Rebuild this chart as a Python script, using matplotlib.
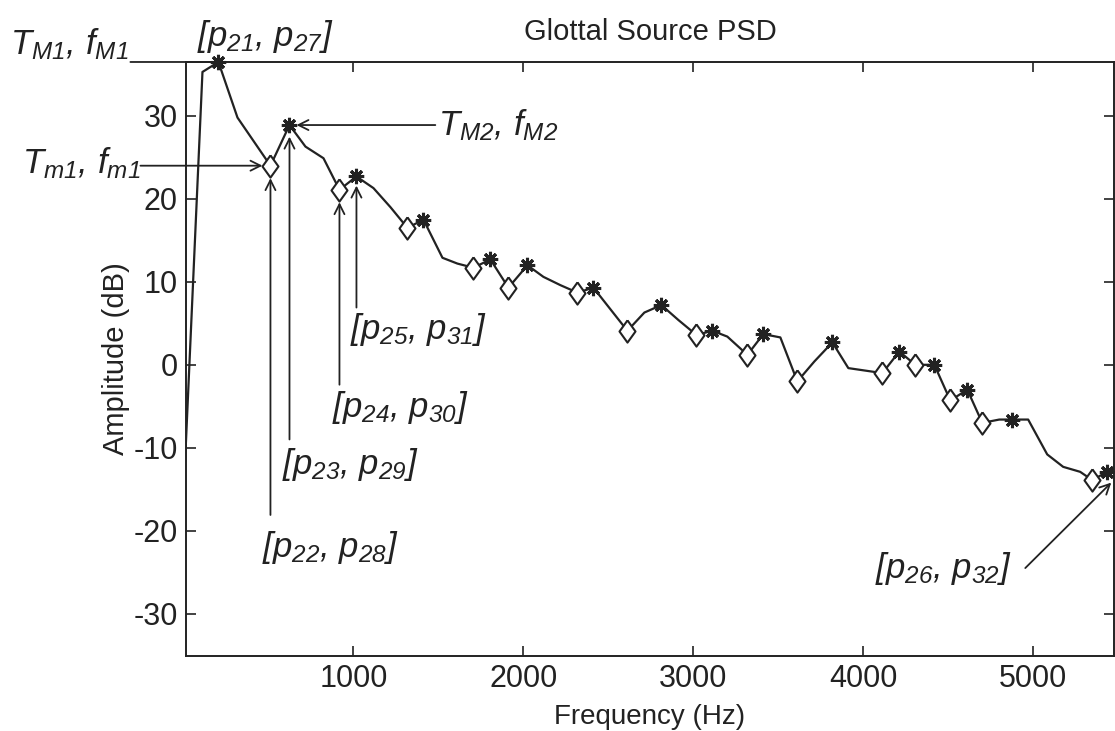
import matplotlib.pyplot as plt

plt.rcParams['font.family'] = ['Liberation Sans', 'DejaVu Sans']
plt.rcParams['axes.unicode_minus'] = False
# annotation labels are italic throughout (letters, digits and brackets)
plt.rcParams['mathtext.fontset'] = 'custom'
plt.rcParams['mathtext.it'] = 'Liberation Sans:italic'
plt.rcParams['mathtext.rm'] = 'Liberation Sans:italic'

# glottal source PSD curve (Hz, dB)
freq = [10, 112, 206, 318, 512, 624, 718, 824, 918, 1018, 1118, 1218, 1318, 1412,
        1524, 1612, 1706, 1806, 1912, 2024, 2118, 2218, 2318, 2412, 2512, 2612,
        2712, 2812, 2912, 3018, 3112, 3200, 3318, 3412, 3512, 3612, 3712, 3818,
        3912, 4012, 4112, 4212, 4306, 4418, 4512, 4612, 4700, 4800, 4876, 4970,
        5082, 5176, 5276, 5347, 5435, 5512]
amp = [-11.5, 35.3, 36.5, 29.8, 24.0, 28.9, 26.3, 24.9, 21.1, 22.7, 21.3, 19.0, 16.5, 17.5,
       12.9, 12.2, 11.7, 12.7, 9.3, 12.0, 10.6, 9.6, 8.7, 9.3, 6.7, 4.1,
       6.3, 7.2, 5.4, 3.6, 4.1, 3.4, 1.2, 3.7, 3.3, -2.0, 0.4, 2.7,
       -0.4, -0.7, -1.0, 1.6, 0.0, 0.0, -4.3, -3.0, -7.0, -6.6, -6.6, -6.6,
       -10.8, -12.3, -12.9, -13.9, -12.9, -12.5]

# peaks (asterisks) and valleys (diamonds)
peak_f = [206, 624, 1018, 1412, 1806, 2024, 2412, 2812, 3112, 3412, 3818, 4212, 4418, 4612, 4876, 5435]
peak_a = [36.5, 28.9, 22.7, 17.5, 12.7, 12.0, 9.3, 7.2, 4.1, 3.7, 2.7, 1.6, 0.0, -3.0, -6.6, -12.9]
valley_f = [512, 918, 1318, 1706, 1912, 2318, 2612, 3018, 3318, 3612, 4112, 4306, 4512, 4700, 5347]
valley_a = [24.0, 21.1, 16.5, 11.7, 9.3, 8.7, 4.1, 3.6, 1.2, -2.0, -1.0, 0.0, -4.3, -7.0, -13.9]

col = '#222222'
fig = plt.figure(figsize=(11.15, 7.31), dpi=100)
ax = fig.add_axes([0.1668, 0.1026, 0.8323, 0.8126])

ax.plot(freq, amp, color=col, lw=1.6)
diamond = [(0, 1), (0.72, 0), (0, -1), (-0.72, 0), (0, 1)]
ax.plot(valley_f, valley_a, ls='none', marker=diamond, ms=16, mfc='white', mec=col, mew=1.5, clip_on=False)
ax.plot(peak_f, peak_a, ls='none', marker=(8, 2, 0), ms=11, mec=col, mew=2.2, clip_on=False)

ax.set_xlim(15, 5475)
ax.set_ylim(-35.1, 36.5)
ax.set_xticks([1000, 2000, 3000, 4000, 5000])
ax.set_yticks([-30, -20, -10, 0, 10, 20, 30])
ax.tick_params(direction='in', top=True, right=True, length=7, width=1.2, labelsize=22, colors=col, pad=6)
for s in ax.spines.values():
    s.set_linewidth(1.4)
    s.set_color(col)

ax.set_title('Glottal Source PSD', fontsize=21, color=col, pad=16)
ax.set_xlabel('Frequency (Hz)', fontsize=20, color=col, labelpad=7)
ax.set_ylabel('Amplitude (dB)', fontsize=21, color=col, labelpad=2)

# annotations
fs = 25
arr = dict(arrowstyle='->', color=col, lw=1.3, mutation_scale=18, shrinkA=0, shrinkB=0)
line = dict(arrowstyle='-', color=col, lw=1.3, shrinkA=0, shrinkB=0)

ax.text(-324, 38.6, r'$T_{M1}{,}\ f_{M1}$', fontsize=fs, color=col, ha='right', va='center', clip_on=False)
ax.annotate('', xy=(206, 36.5), xytext=(-312, 36.5), arrowprops=line, annotation_clip=False)
ax.text(482, 39.6, r'$[p_{21}{,}\ p_{27}]$', fontsize=fs, color=col, ha='center', va='center', clip_on=False)

ax.text(1500, 28.9, r'$T_{M2}{,}\ f_{M2}$', fontsize=fs, color=col, ha='left', va='center')
ax.annotate('', xy=(665, 28.9), xytext=(1482, 28.9), arrowprops=arr)

ax.text(-947, 24.3, r'$T_{m1}{,}\ f_{m1}$', fontsize=fs, color=col, ha='left', va='center', clip_on=False)
ax.annotate('', xy=(465, 24.0), xytext=(-253, 24.0), arrowprops=arr, annotation_clip=False)

ax.text(865, -22.0, r'$[p_{22}{,}\ p_{28}]$', fontsize=fs, color=col, ha='center', va='center')
ax.annotate('', xy=(512, 22.5), xytext=(512, -18.1), arrowprops=arr)
ax.text(982, -12.0, r'$[p_{23}{,}\ p_{29}]$', fontsize=fs, color=col, ha='center', va='center')
ax.annotate('', xy=(624, 27.5), xytext=(624, -9.0), arrowprops=arr)
ax.text(1276, -5.2, r'$[p_{24}{,}\ p_{30}]$', fontsize=fs, color=col, ha='center', va='center')
ax.annotate('', xy=(918, 19.6), xytext=(918, -2.4), arrowprops=arr)
ax.text(1382, 4.2, r'$[p_{25}{,}\ p_{31}]$', fontsize=fs, color=col, ha='center', va='center')
ax.annotate('', xy=(1018, 21.6), xytext=(1018, 6.9), arrowprops=arr)
ax.text(4470, -24.5, r'$[p_{26}{,}\ p_{32}]$', fontsize=fs, color=col, ha='center', va='center')
ax.annotate('', xy=(5459, -14.2), xytext=(4953, -24.5), arrowprops=arr)

fig.savefig('out.png', dpi=100)
